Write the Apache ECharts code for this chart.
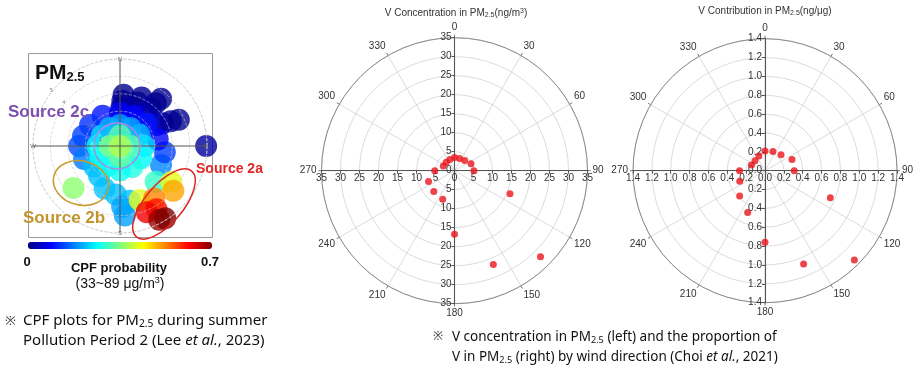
<!DOCTYPE html>
<html><head><meta charset="utf-8">
<script src="https://cdn.jsdelivr.net/npm/echarts@6/dist/echarts.min.js"></script>
<style>html,body{margin:0;padding:0;background:#fff}#c{width:921px;height:372px}</style>
</head><body><div id="c"></div>
<script>
// ---- data ----
const directions = [0, 22.5, 45, 67.5, 90, 112.5, 135, 157.5, 180, 202.5, 225, 247.5, 270, 292.5, 315, 337.5];
const vConcentration = [3.5, 3.5, 3.8, 4.7, 5.1, 15.8, 32.0, 26.7, 16.7, 8.1, 7.7, 7.4, 5.2, 3.2, 3.1, 3.2];
const vContribution = [0.21, 0.22, 0.24, 0.31, 0.31, 0.75, 1.34, 1.07, 0.76, 0.48, 0.38, 0.29, 0.27, 0.155, 0.15, 0.17];

// CPF plot blobs (angle in degrees, radius in ring units, CPF probability)
const cpfAngle  = [2, 3, 4, 20, 22, 24, 38, 39, 40, 41, 60, 62, 64, 66, 90,
  330, 305, 285, 270, 250, 232, 215, 200, 185, 170, 178, 176, 115, 98, 80, 0, 25, 50,
  0, 30, 60, 90, 120, 150, 180, 210, 240, 270, 300, 330,
  0, 90, 180, 270, 0,
  135, 125, 130, 160, 147, 150, 158, 152, 148,
  228];
const cpfRadius = [2.2, 2.6, 2.95, 2.3, 2.7, 3.05, 2.4, 2.8, 3.2, 3.6, 2.4, 2.8, 3.25, 3.7, 4.95,
  2.0, 2.1, 2.2, 2.35, 2.2, 1.9, 2.1, 2.6, 2.8, 3.2, 3.5, 4.0, 2.6, 2.6, 2.2, 1.9, 1.9, 2.0,
  1.2, 1.2, 1.3, 1.4, 1.4, 1.4, 1.4, 1.3, 1.3, 1.3, 1.2, 1.2,
  0.6, 0.6, 0.6, 0.6, 0,
  2.9, 3.6, 4.0, 3.3, 3.6, 4.2, 4.1, 4.8, 4.9,
  3.6];
const cpfValue  = [0.04, 0.02, 0.01, 0.04, 0.02, 0.01, 0.04, 0.03, 0.02, 0.01, 0.05, 0.03, 0.02, 0.01, 0.02,
  0.10, 0.12, 0.13, 0.14, 0.17, 0.22, 0.22, 0.22, 0.22, 0.22, 0.20, 0.20, 0.18, 0.13, 0.09, 0.08, 0.09, 0.10,
  0.20, 0.20, 0.21, 0.24, 0.26, 0.28, 0.27, 0.27, 0.27, 0.27, 0.24, 0.21,
  0.32, 0.32, 0.33, 0.35, 0.38,
  0.30, 0.42, 0.50, 0.42, 0.52, 0.60, 0.62, 0.68, 0.70,
  0.36];
const compassLabels = {0: 'N', 90: 'E', 180: 'S', 270: 'W'};
const cpfMin = 0, cpfMax = 0.7;
const concMax = 35, concStep = 5;
const contMax = 1.4, contStep = 0.2;

// ---- layout ----
const F = '"Liberation Sans", Arial, sans-serif';
const CAP = '"Noto Sans", "Open Sans", sans-serif';
const C0 = {cx: 120, cy: 146, r: 87};
const C1 = {cx: 454.5, cy: 170.7, r: 133};
const C2 = {cx: 765, cy: 170.7, r: 132};

const chart = echarts.init(document.getElementById('c'));

function anglePolar(idx) {
  return {
    polarIndex: idx, type: 'value', min: 0, max: 360, interval: 30, startAngle: 90, clockwise: true,
    axisLine: {lineStyle: {color: '#8a8a8a', width: 1}},
    axisTick: {length: 3, lineStyle: {color: '#777'}},
    axisLabel: {formatter: v => v === 360 ? '' : String(v), fontSize: 10, color: '#333', fontFamily: F, margin: 5},
    splitLine: {lineStyle: {color: '#d2d2d2', width: 0.8}}
  };
}
function radiusPolar(idx, max, step) {
  return {
    polarIndex: idx, type: 'value', min: 0, max: max, interval: step,
    axisLine: {show: false}, axisTick: {show: false}, axisLabel: {show: false},
    splitLine: {lineStyle: {color: '#d2d2d2', width: 0.8}}
  };
}
function gridFor(C) {
  return {left: C.cx - C.r, top: C.cy - C.r, width: 2 * C.r, height: 2 * C.r, outerBoundsMode: 'none', containLabel: false};
}
function cartAxis(gi, max, step, fmt, half, isY) {
  return {
    gridIndex: gi, type: 'value', min: -max, max: max, interval: step,
    position: isY ? 'left' : 'bottom', offset: -half,
    axisLine: {onZero: false, lineStyle: {color: '#555', width: 1.1}},
    axisTick: {length: 3, lineStyle: {color: '#555'}},
    axisLabel: {formatter: fmt, fontSize: 10, color: '#333', fontFamily: F, margin: 3, interval: 0,
      showMinLabel: true, showMaxLabel: true, hideOverlap: false},
    splitLine: {show: false}
  };
}
const fmtConc = v => String(Math.abs(Math.round(v)));
const fmtCont = v => Math.abs(v).toFixed(1);

const sub = {fontSize: 7, fontFamily: F, color: '#333', verticalAlign: 'bottom', padding: [4, 0, 0, 0]};
const sup = {fontSize: 7, fontFamily: F, color: '#333', verticalAlign: 'top'};
function capRich(fs) {
  return {
    s: {fontSize: fs * 0.68, fontFamily: CAP, color: '#111', padding: [fs * 0.45, 0, 0, 0]},
    i: {fontSize: fs, fontFamily: CAP, color: '#111', fontStyle: 'italic'}
  };
}

function txt(x, y, text, style) {
  return {type: 'text', x: x, y: y, z: 100, style: Object.assign({text: text, fontFamily: F, verticalAlign: 'middle'}, style)};
}

const option = {
  animation: false,
  backgroundColor: '#fff',
  polar: [
    {center: [C0.cx, C0.cy], radius: C0.r},
    {center: [C0.cx, C0.cy], radius: C0.r},
    {center: [C1.cx, C1.cy], radius: C1.r},
    {center: [C2.cx, C2.cy], radius: C2.r}
  ],
  angleAxis: [
    {polarIndex: 0, type: 'value', min: 0, max: 360, interval: 90, startAngle: 90, clockwise: true, z: 10,
      axisLine: {lineStyle: {color: '#cfcfcf', type: 'dashed', width: 0.8}},
      axisTick: {show: false},
      axisLabel: {formatter: v => compassLabels[v] || '', fontSize: 6, color: '#555', fontFamily: F, margin: -3},
      splitLine: {lineStyle: {color: '#555', width: 1}}},
    {polarIndex: 1, type: 'value', min: 0, max: 360, startAngle: 135, show: false},
    anglePolar(2), anglePolar(3)
  ],
  radiusAxis: [
    {polarIndex: 0, type: 'value', min: 0, max: 5, interval: 1, z: 9,
      axisLine: {show: false}, axisTick: {show: false}, axisLabel: {show: false},
      splitLine: {lineStyle: {color: 'rgba(200,200,200,0.8)', type: 'dashed', width: 0.8}}},
    {polarIndex: 1, type: 'value', min: 0, max: 5, interval: 1, z: 10,
      axisLine: {show: false}, axisTick: {show: false}, splitLine: {show: false},
      axisLabel: {formatter: v => v === 0 ? '' : String(v), fontSize: 5, color: '#777', fontFamily: F}},
    radiusPolar(2, concMax, concStep), radiusPolar(3, contMax, contStep)
  ],
  grid: [gridFor(C1), gridFor(C2)],
  xAxis: [cartAxis(0, concMax, concStep, fmtConc, C1.r, false), cartAxis(1, contMax, contStep, fmtCont, C2.r, false)],
  yAxis: [cartAxis(0, concMax, concStep, fmtConc, C1.r, true), cartAxis(1, contMax, contStep, fmtCont, C2.r, true)],
  visualMap: [{
    type: 'continuous', seriesIndex: 0, dimension: 2, min: cpfMin, max: cpfMax,
    orient: 'horizontal', left: 28, top: 242, itemWidth: 7, itemHeight: 184, padding: 0,
    calculable: false, showLabel: false, text: null, hoverLink: false,
    inRange: {color: ['#00007f', '#0000ff', '#007fff', '#00ffff', '#7fff7f', '#ffff00', '#ff7f00', '#ff0000', '#7f0000']}
  }],
  series: [
    {type: 'scatter', coordinateSystem: 'polar', polarIndex: 0, symbolSize: 22, z: 3,
      data: cpfAngle.map((a, i) => [cpfRadius[i], a, cpfValue[i]])},
    {type: 'scatter', coordinateSystem: 'polar', polarIndex: 2, symbolSize: 7, z: 5,
      itemStyle: {color: '#e8141c'}, data: directions.map((d, i) => [vConcentration[i], d])},
    {type: 'scatter', coordinateSystem: 'polar', polarIndex: 3, symbolSize: 7, z: 5,
      itemStyle: {color: '#e8141c'}, data: directions.map((d, i) => [vContribution[i], d])}
  ],
  graphic: [
    {type: 'rect', z: 0, shape: {x: 28.5, y: 53.5, width: 184, height: 184}, style: {fill: 'none', stroke: '#9a9a9a', lineWidth: 1}},
    txt(35, 73, 'PM{s|2.5}', {fontSize: 21, fontWeight: 'bold', fill: '#111',
      rich: {s: {fontSize: 13, fontWeight: 'bold', fontFamily: F, fill: '#111', padding: [9, 0, 0, 0]}}}),
    {type: 'circle', z: 100, shape: {cx: 117, cy: 146, r: 23}, style: {fill: 'none', stroke: '#a98be0', lineWidth: 1.5}},
    {type: 'ellipse', z: 100, x: 81, y: 183, rotation: -0.25, shape: {cx: 0, cy: 0, rx: 28, ry: 22}, style: {fill: 'none', stroke: '#c99a2e', lineWidth: 1.5}},
    {type: 'ellipse', z: 100, x: 164, y: 204, rotation: 0.87, shape: {cx: 0, cy: 0, rx: 43, ry: 19}, style: {fill: 'none', stroke: '#e02424', lineWidth: 1.5}},
    txt(8, 112, 'Source 2c', {fontSize: 17, fontWeight: 'bold', fill: '#7d4fb0'}),
    txt(196, 169, 'Source 2a', {fontSize: 14, fontWeight: 'bold', fill: '#e42626'}),
    txt(23, 218, 'Source 2b', {fontSize: 17, fontWeight: 'bold', fill: '#c2942c'}),
    txt(27, 262, '0', {fontSize: 13, fontWeight: 'bold', fill: '#111', align: 'center'}),
    txt(210, 262, '0.7', {fontSize: 13, fontWeight: 'bold', fill: '#111', align: 'center'}),
    txt(119, 268, 'CPF probability', {fontSize: 13, fontWeight: 'bold', fill: '#111', align: 'center'}),
    txt(120, 284, '(33~89 μg/m{p|3})', {fontSize: 14, fill: '#111', align: 'center',
      rich: {p: {fontSize: 9, fontFamily: F, fill: '#111', verticalAlign: 'top', padding: [0, 0, 6, 0]}}}),
    txt(456, 13.5, 'V Concentration in PM{s|2.5}(ng/m{p|3})', {fontSize: 10, fill: '#333', align: 'center', rich: {s: sub, p: sup}}),
    txt(765, 11, 'V Contribution in PM{s|2.5}(ng/μg)', {fontSize: 10, fill: '#333', align: 'center', rich: {s: sub}}),
    txt(5, 321, '※', {fontSize: 13, fontFamily: CAP, fill: '#333'}),
    txt(23, 321, 'CPF plots for PM{s|2.5} during summer', {fontSize: 15, fontFamily: CAP, fill: '#111', rich: capRich(15)}),
    txt(23, 341, 'Pollution Period 2 (Lee {i|et al.}, 2023)', {fontSize: 15, fontFamily: CAP, fill: '#111', rich: capRich(15)}),
    txt(433, 337, '※', {fontSize: 12, fontFamily: CAP, fill: '#333'}),
    txt(452, 337, 'V concentration in PM{s|2.5} (left) and the proportion of', {fontSize: 13.5, fontFamily: CAP, fill: '#111', rich: capRich(13.5)}),
    txt(452, 357, 'V in PM{s|2.5} (right) by wind direction (Choi {i|et al.}, 2021)', {fontSize: 13.5, fontFamily: CAP, fill: '#111', rich: capRich(13.5)})
  ]
};
chart.setOption(option);
</script>
</body></html>
